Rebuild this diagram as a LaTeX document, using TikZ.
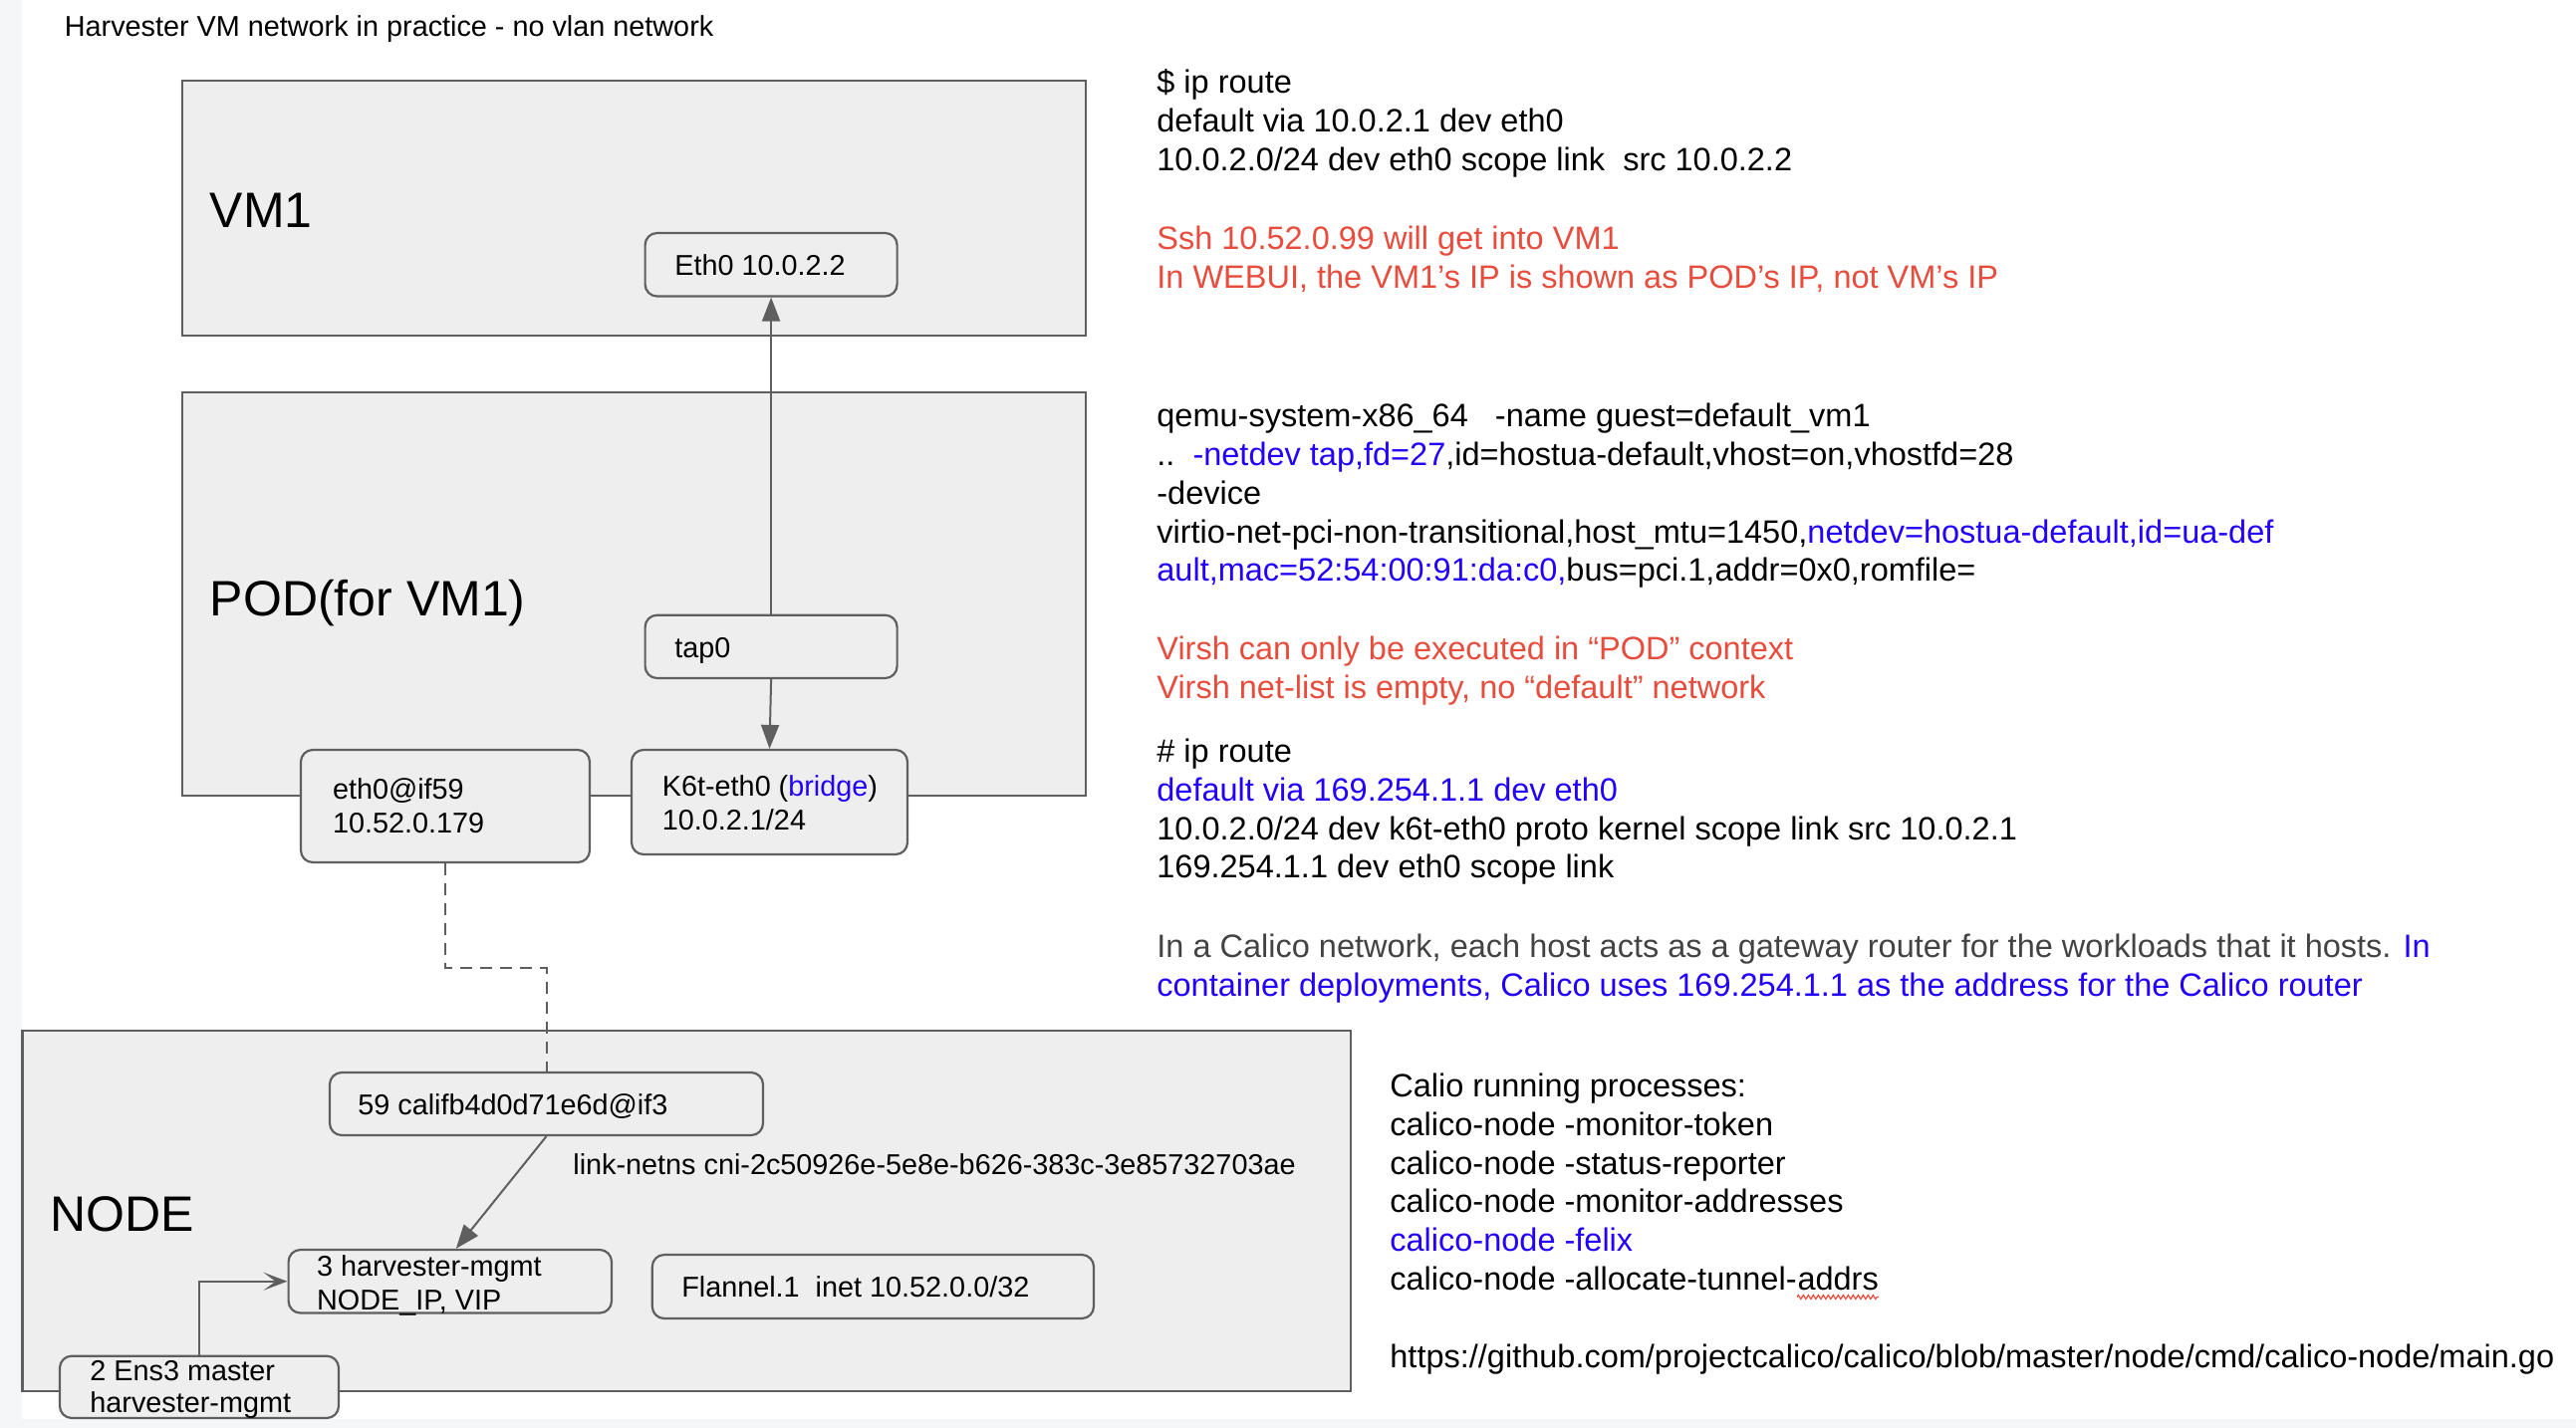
\documentclass[tikz,border=0pt]{standalone}
\usepackage{fontspec}
\setmainfont{Liberation Sans}
\usetikzlibrary{arrows.meta,fit,calc,decorations.pathmorphing}
\definecolor{boxfill}{RGB}{238,238,238}
\definecolor{boxline}{RGB}{95,95,95}
\definecolor{noteblue}{RGB}{34,0,255}
\definecolor{notered}{RGB}{231,76,60}
\definecolor{notegray}{RGB}{67,67,67}
\definecolor{pageedge}{RGB}{245,246,247}
\begin{document}
\begin{tikzpicture}[x=0.5pt,y=-0.5pt,
  bigbox/.style={draw=boxline, fill=boxfill, line width=1.3pt, inner sep=0pt, rectangle},
  smallbox/.style={draw=boxline, fill=boxfill, line width=1.1pt, inner sep=0pt, rounded corners=6pt},
  conn/.style={draw=boxline, line width=1pt},
  tri/.style={-{Triangle[length=12pt,width=9pt]}},
  barb/.style={-{Stealth[length=12pt,width=9pt,inset=6pt]}},
  dashline/.style={dash pattern=on 6pt off 4pt},
  dtxt/.style={anchor=base west, inner sep=0pt, font=\fontsize{14.4}{17}\selectfont},
  rtxt/.style={anchor=base west, inner sep=0pt, font=\fontsize{16.25}{19.5}\selectfont},
  bigtxt/.style={anchor=base west, inner sep=0pt, font=\fontsize{25}{30}\selectfont}]
\useasboundingbox (0,0) rectangle (2586,1434);
\fill[pageedge] (0,0) rectangle (22,1434);
\fill[pageedge] (0,1425) rectangle (2586,1434);

% title
\node[dtxt] (title) at (64.5,37) {Harvester VM network in practice - no vlan network};

% VM1
\node[bigbox, fit={(183,81) (1090,337)}] (vm1) {};
\node[bigtxt] (vm1lbl) at (210.5,228.8) {VM1};
\node[smallbox, fit={(647.6,234) (900.6,297.5)}] (eth0vm) {};
\node[dtxt] (eth0vmlbl) at (677,276.7) {Eth0 10.0.2.2};

% POD
\node[bigbox, fit={(183,394) (1090,799)}] (pod) {};
\node[bigtxt] (podlbl) at (210.5,618) {POD(for VM1)};
\node[smallbox, fit={(647.6,617.7) (900.6,681)}] (tap) {};
\node[dtxt] (taplbl) at (677,660) {tap0};
\node[smallbox, fit={(302,753) (592,866)}] (eth0pod) {};
\node[dtxt] (eth0podlbla) at (333.6,802) {eth0@if59};
\node[dtxt] (eth0podlblb) at (333.6,836.4) {10.52.0.179};
\node[smallbox, fit={(634,753) (911,858)}] (k6t) {};
\node[dtxt] (k6tlbla) at (664.5,799) {K6t-eth0 (\textcolor{noteblue}{bridge})};
\node[dtxt] (k6tlblb) at (664.5,833) {10.0.2.1/24};

% NODE
\node[bigbox, fit={(22.7,1035) (1356,1397)}] (node) {};
\node[bigtxt] (nodelbl) at (50,1236) {NODE};
\node[smallbox, fit={(331,1077) (766,1140)}] (cali) {};
\node[dtxt] (calilbl) at (359,1119.6) {59 califb4d0d71e6d@if3};
\node[dtxt] (netnslbl) at (575,1179.6) {link-netns cni-2c50926e-5e8e-b626-383c-3e85732703ae};
\node[smallbox, fit={(289.6,1255) (614,1318.5)}] (harv) {};
\node[dtxt] (harvlbla) at (317.7,1281) {3 harvester-mgmt};
\node[dtxt] (harvlblb) at (317.7,1315) {NODE\_IP, VIP};
\node[smallbox, fit={(654.8,1260) (1098,1324)}] (flan) {};
\node[dtxt] (flanlbl) at (683.9,1302) {Flannel.1\ \ inet 10.52.0.0/32};
\node[smallbox, fit={(60,1361.7) (340,1424)}] (ens3) {};
\node[dtxt] (ens3lbla) at (90,1386) {2 Ens3 master};
\node[dtxt] (ens3lblb) at (90,1418.5) {harvester-mgmt};

% connectors
\draw[conn, tri] (tap.north) -- (eth0vm.south);
\draw[conn, tri] (tap.south) -- (k6t.north);
\draw[conn, dashline] (eth0pod.south) -- ++(0,105) -| (cali.north);
\draw[conn, tri] (cali.south) -- ([xshift=3pt]harv.north);
\draw[conn, barb] (ens3.north) |- (harv.west);

% right notes
\node[rtxt] (r1) at (1161,94) {\$ ip route};
\node[rtxt] (r2) at (1161,132.8) {default via 10.0.2.1 dev eth0};
\node[rtxt] (r3) at (1161,171.6) {10.0.2.0/24 dev eth0 scope link\ \ src 10.0.2.2};
\node[rtxt, text=notered] (r4) at (1161,250.5) {Ssh 10.52.0.99 will get into VM1};
\node[rtxt, text=notered] (r5) at (1161,289.3) {In WEBUI, the VM1’s IP is shown as POD’s IP, not VM’s IP};
\node[rtxt] (q1) at (1161,428.6) {qemu-system-x86\_64\ \ \ -name guest=default\_vm1};
\node[rtxt] (q2) at (1161,467.4) {..\ \ \textcolor{noteblue}{-netdev tap,fd=27},id=hostua-default,vhost=on,vhostfd=28};
\node[rtxt] (q3) at (1161,506.2) {-device};
\node[rtxt] (q4) at (1161,545) {virtio-net-pci-non-transitional,host\_mtu=1450,\textcolor{noteblue}{netdev=hostua-default,id=ua-def}};
\node[rtxt] (q5) at (1161,583.8) {\textcolor{noteblue}{ault,mac=52:54:00:91:da:c0,}bus=pci.1,addr=0x0,romfile=};
\node[rtxt, text=notered] (v1) at (1161,662.8) {Virsh can only be executed in “POD” context};
\node[rtxt, text=notered] (v2) at (1161,701.6) {Virsh net-list is empty, no “default” network};
\node[rtxt] (h1) at (1161,765.5) {\# ip route};
\node[rtxt, text=noteblue] (h2) at (1161,804.3) {default via 169.254.1.1 dev eth0};
\node[rtxt] (h3) at (1161,843.1) {10.0.2.0/24 dev k6t-eth0 proto kernel scope link src 10.0.2.1};
\node[rtxt] (h4) at (1161,881.9) {169.254.1.1 dev eth0 scope link};
\node[rtxt] (c1) at (1161,961.3) {\textcolor{notegray}{In a Calico network, each host acts as a gateway router for the workloads that it hosts.} \textcolor{noteblue}{In}};
\node[rtxt, text=noteblue] (c2) at (1161,1000.1) {container deployments, Calico uses 169.254.1.1 as the address for the Calico router};
\node[rtxt] (p0) at (1395,1101.5) {Calio running processes:};
\node[rtxt] (p1) at (1395,1140.3) {calico-node -monitor-token};
\node[rtxt] (p2) at (1395,1179.1) {calico-node -status-reporter};
\node[rtxt] (p3) at (1395,1217.9) {calico-node -monitor-addresses};
\node[rtxt, text=noteblue] (p4) at (1395,1256.7) {calico-node -felix};
\node[rtxt] (p5a) at (1395,1295.5) {calico-node -allocate-tunnel-};
\node[rtxt] (p5b) at (p5a.base east) {addrs};
\draw[notered, line width=0.6pt, decorate, decoration={zigzag, amplitude=1pt, segment length=2.5pt}]
  ($(p5b.base west)+(0,7)$) -- ($(p5b.base east)+(0,7)$);
\node[rtxt] (url) at (1395,1373.6) {https://github.com/projectcalico/calico/blob/master/node/cmd/calico-node/main.go};
\end{tikzpicture}
\end{document}
